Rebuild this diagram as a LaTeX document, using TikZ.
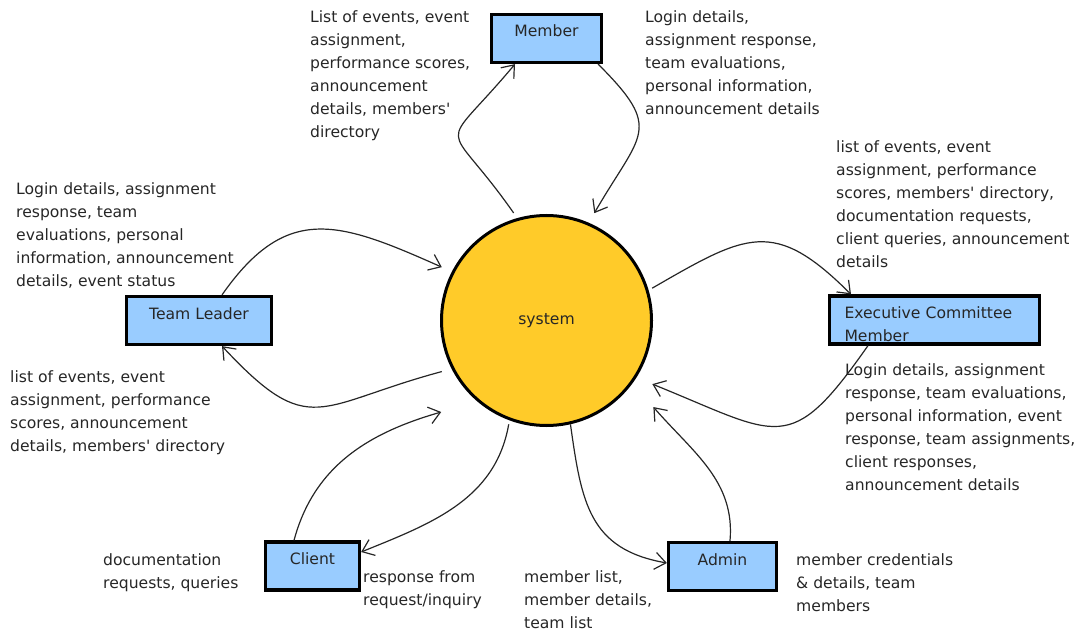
\documentclass[tikz,border=0pt]{standalone}
\usepackage{fontspec}
\setmainfont{DejaVu Sans}
\usetikzlibrary{arrows.meta}
\definecolor{boxblue}{RGB}{153,204,255}
\definecolor{sysyellow}{RGB}{255,203,41}
\newcommand{\apos}{\textquotesingle}
\begin{document}
\begin{tikzpicture}[x=1pt, y=1pt,
    every node/.style={font=\fontsize{15.6}{23}\selectfont, text=black!85},
    entbox/.style={draw=black, line width=3.2pt, fill=boxblue, minimum height=48pt, inner sep=0pt},
    ent/.style={entbox, text height=12pt, text depth=15pt},
    flow/.style={draw=black!85, line width=1.2pt, -{Straight Barb[length=11pt,width=17pt,line width=1.2pt]}},
    lbl/.style={anchor=north west, align=left, inner sep=0pt}]
    \useasboundingbox (0,0) rectangle (1081,630);
    \node[circle, draw=black, line width=3pt, fill=sysyellow, minimum size=210pt, inner sep=0pt] (sys) at (546.5,309.5) {system};
    \node[ent, minimum width=110pt] (mem) at (546.5,591.5) {Member};
    \node[ent, minimum width=145pt] (tl) at (199,309.5) {Team Leader};
    \node[entbox, minimum width=210pt, text width=180pt, align=left] (exec) at (934.5,310) {\rule{0pt}{19.5pt}Executive Committee\\Member};
    \node[ent, minimum width=94pt] (cl) at (312.5,64) {Client};
    \node[ent, minimum width=108pt] (adm) at (722.5,63.5) {Admin};
    % flows
    \draw[flow] ([shift={(107:6)}]sys.107) to[out=125, in=230, looseness=2.1] ([xshift=-31.5pt]mem.south);
    \draw[flow] ([xshift=-5pt]mem.south east) to[out=-45, in=60, looseness=1.6] ([shift={(66:11)}]sys.66);
    \draw[flow] ([xshift=23pt]tl.north) to[out=55, in=156, looseness=1.3] ([shift={(153:11)}]sys.153);
    \draw[flow] ([shift={(206:10)}]sys.206) to[out=195, in=-47, looseness=1.5] ([xshift=23pt]tl.south);
    \draw[flow] ([shift={(17:4)}]sys.17) to[out=30, in=135, looseness=1.4] ([xshift=-83.5pt]exec.north);
    \draw[flow] ([xshift=-66.5pt]exec.south) to[out=235, in=-22, looseness=1.6] ([shift={(329:17)}]sys.329);
    \draw[flow] ([xshift=7.5pt]adm.north) to[out=85, in=-49, looseness=1] ([shift={(321:31)}]sys.321);
    \draw[flow] (sys.283) to[out=-82, in=170, looseness=1.2] ([yshift=3.5pt]adm.west);
    \draw[flow] ([shift={(250:4)}]sys.250) to[out=260, in=22, looseness=1] ([yshift=14pt]cl.east);
    \draw[flow] ([xshift=-18.5pt]cl.north) to[out=75, in=196, looseness=1] ([shift={(221:33)}]sys.221);
    % flow labels
    \node[lbl] (memIn) at (310,620) {List of events, event\\assignment,\\performance scores,\\announcement\\details, members\apos\\directory};
    \node[lbl] (memOut) at (645,620) {Login details,\\assignment response,\\team evaluations,\\personal information,\\announcement details};
    \node[lbl] (tlOut) at (16,448) {Login details, assignment\\response, team\\evaluations, personal\\information, announcement\\details, event status};
    \node[lbl] (tlIn) at (10,260) {list of events, event\\assignment, performance\\scores, announcement\\details, members\apos{} directory};
    \node[lbl] (execIn) at (836,489.5) {list of events, event\\assignment, performance\\scores, members\apos{} directory,\\documentation requests,\\client queries, announcement\\details};
    \node[lbl] (execOut) at (845,267) {Login details, assignment\\response, team evaluations,\\personal information, event\\response, team assignments,\\client responses,\\announcement details};
    \node[lbl] (clOut) at (103,76.5) {documentation\\requests, queries};
    \node[lbl] (clIn) at (363,60) {response from\\request/inquiry};
    \node[lbl] (admIn) at (524,60) {member list,\\member details,\\team list};
    \node[lbl] (admOut) at (796,77) {member credentials\\\& details, team\\members};
\end{tikzpicture}
\end{document}
